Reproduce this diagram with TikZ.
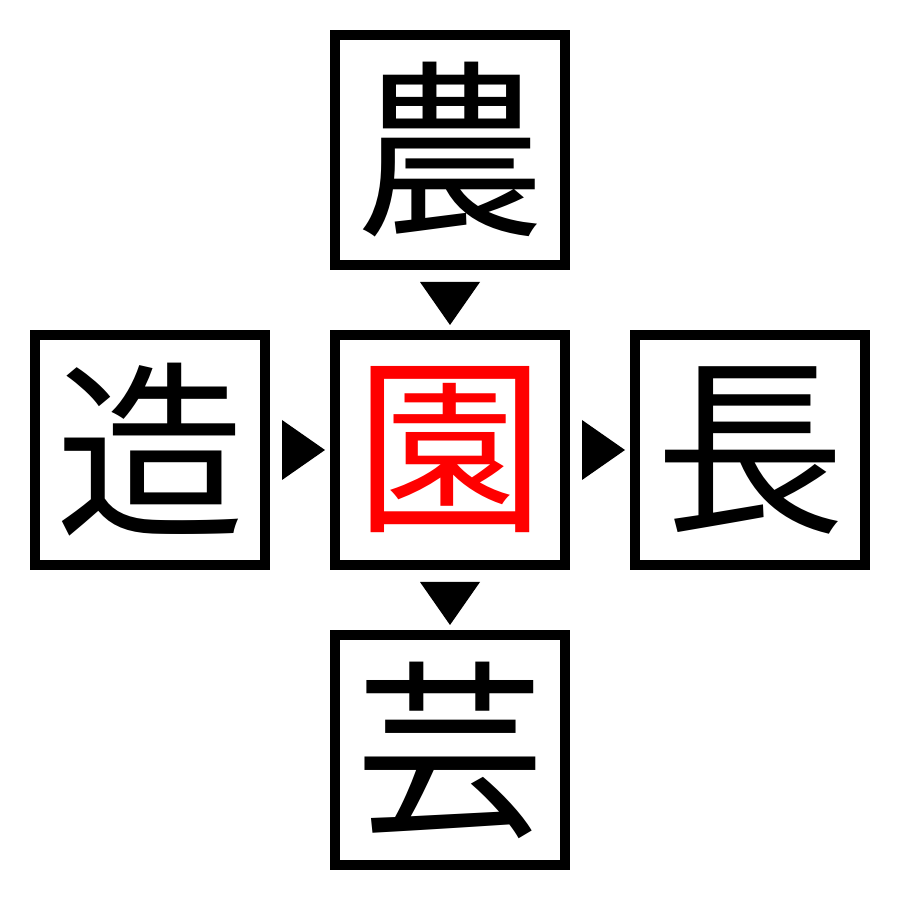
\documentclass[tikz,border=0pt]{standalone}
\usepackage{xcolor}
\usepackage{fontspec}
\newfontfamily\jpfont{Noto Sans CJK JP}
\usepackage{tikz}
\usetikzlibrary{calc}
\usetikzlibrary{positioning}

\tikzset{
  kanji/.style={draw, line width=0.1cm, minimum size=2.3cm, inner sep=0pt,
    font=\jpfont\fontsize{54}{54}\selectfont},
}

\begin{document}
\begin{tikzpicture}

    \useasboundingbox (0, 0) rectangle (9, 9);

    \node [kanji, text=red] (en) at (4.5, 4.5) {園};
    \node [kanji, above=0.6cm of en] (nou) {農};
    \node [kanji, below=0.6cm of en] (gei) {芸};
    \node [kanji, left=0.6cm of en] (zou) {造};
    \node [kanji, right=0.6cm of en] (chou) {長};

    % downward markers
    \fill ($(nou.south)!0.5!(en.north)$) ++(-0.3, 0.18) -- ++(0.6, 0) -- ++(-0.3, -0.43) -- cycle;
    \fill ($(en.south)!0.5!(gei.north)$) ++(-0.3, 0.18) -- ++(0.6, 0) -- ++(-0.3, -0.43) -- cycle;

    % rightward markers
    \fill ($(zou.east)!0.5!(en.west)$) ++(-0.18, 0.3) -- ++(0, -0.6) -- ++(0.43, 0.3) -- cycle;
    \fill ($(en.east)!0.5!(chou.west)$) ++(-0.18, 0.3) -- ++(0, -0.6) -- ++(0.43, 0.3) -- cycle;

  \end{tikzpicture}
\end{document}
